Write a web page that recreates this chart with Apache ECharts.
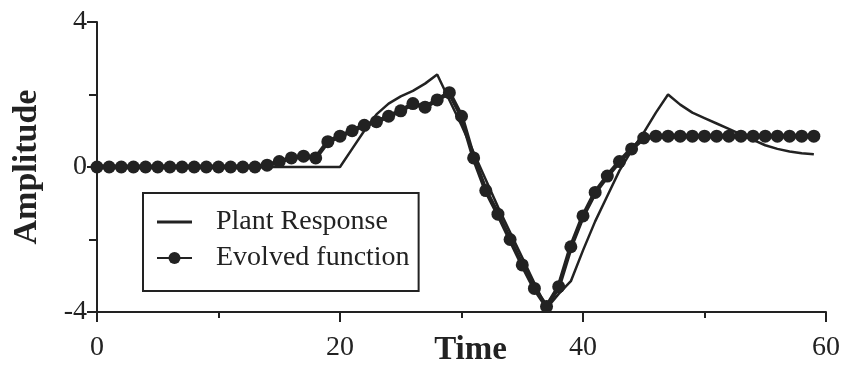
<!DOCTYPE html>
<html>
<head>
<meta charset="utf-8">
<script src="https://cdn.jsdelivr.net/npm/echarts@6/dist/echarts.min.js"></script>
<style>html,body{margin:0;padding:0;background:#fff;}#c{width:847px;height:367px;}</style>
</head>
<body>
<div id="c"></div>
<script>
var times = [0,1,2,3,4,5,6,7,8,9,10,11,12,13,14,15,16,17,18,19,20,21,22,23,24,25,26,27,28,29,30,31,32,33,34,35,36,37,38,39,40,41,42,43,44,45,46,47,48,49,50,51,52,53,54,55,56,57,58,59];
var plantResponse = [0,0,0,0,0,0,0,0,0,0,0,0,0,0,0,0,0,0,0,0,0,
  0.5,1.0,1.45,1.75,1.95,2.1,2.3,2.55,1.85,1.15,0.4,-0.35,-1.1,-1.8,-2.5,-3.2,-3.9,
  -3.5,-3.15,-2.3,-1.5,-0.8,-0.1,0.45,0.95,1.5,2.0,1.72,1.5,1.35,1.2,1.05,0.9,0.75,0.6,0.5,0.43,0.38,0.35];
var evolvedFunction = [0,0,0,0,0,0,0,0,0,0,0,0,0,0,
  0.05,0.15,0.25,0.3,0.25,0.7,0.85,1.0,1.15,1.25,1.4,1.55,1.75,1.65,1.85,2.05,
  1.4,0.25,-0.65,-1.3,-2.0,-2.7,-3.35,-3.85,-3.3,-2.2,-1.35,-0.7,-0.25,0.15,0.5,0.8,
  0.85,0.85,0.85,0.85,0.85,0.85,0.85,0.85,0.85,0.85,0.85,0.85,0.85,0.85];
var xTicks = [0,20,40,60];
var yTicks = [-4,0,4];

function pairs(vals){ return times.map(function(t,i){ return [t, vals[i]]; }); }
var ink = '#222';
var font = 'Liberation Serif, Times New Roman, serif';
var lineIcon = 'path://M0,0L0.01,0L0,0.01Z M0,5.5H35V8.5H0Z M35,14L34.99,14L35,13.99Z';
var chart = echarts.init(document.getElementById('c'), null, {renderer:'canvas'});
chart.setOption({
  backgroundColor:'#fff',
  animation:false,
  textStyle:{fontFamily:font,color:ink},
  grid:{left:97,right:21,top:22,bottom:55,containLabel:false,outerBoundsMode:'none'},
  legend:{
    orient:'vertical', left:143, top:193,
    borderColor:ink, borderWidth:2, borderRadius:0,
    padding:[14,9,18,13], itemGap:6,
    itemWidth:35, itemHeight:15,
    textStyle:{fontFamily:font,fontSize:28,color:ink,lineHeight:30,padding:[0,0,0,19]},
    data:[{name:'Plant Response',icon:lineIcon},{name:'Evolved function'}]
  },
  xAxis:{
    type:'value', min:0, max:60, interval:20,
    name:'Time', nameLocation:'middle', nameGap:22, nameMoveOverlap:false,
    nameTextStyle:{fontFamily:font,fontSize:33,fontWeight:'bold',color:ink,padding:[0,0,0,18]},
    axisLine:{show:true,onZero:false,lineStyle:{color:ink,width:2}},
    axisTick:{show:true,inside:false,length:10,lineStyle:{color:ink,width:2}},
    minorTick:{show:true,splitNumber:2,length:6,lineStyle:{color:ink,width:2}},
    splitLine:{show:false},
    axisLabel:{margin:22,fontFamily:font,fontSize:28,color:ink,
      formatter:function(v){ return xTicks.indexOf(v)>=0 ? String(v) : ''; }}
  },
  yAxis:{
    type:'value', min:-4, max:4, interval:4,
    name:'Amplitude', nameLocation:'middle', nameGap:53, nameRotate:90, nameMoveOverlap:false,
    nameTextStyle:{fontFamily:font,fontSize:34,fontWeight:'bold',color:ink},
    axisLine:{show:true,onZero:false,lineStyle:{color:ink,width:2}},
    axisTick:{show:true,inside:false,length:10,lineStyle:{color:ink,width:2}},
    minorTick:{show:true,splitNumber:2,length:8,lineStyle:{color:ink,width:2}},
    splitLine:{show:false},
    axisLabel:{margin:10,fontFamily:font,fontSize:28,color:ink,
      formatter:function(v){ return yTicks.indexOf(v)>=0 ? String(v) : ''; }}
  },
  series:[
    {name:'Plant Response', type:'line', data:pairs(plantResponse), symbol:'none',
     lineStyle:{color:ink,width:2.5}, itemStyle:{color:ink}, z:2},
    {name:'Evolved function', type:'line', data:pairs(evolvedFunction), symbol:'circle',
     symbolSize:13, showAllSymbol:true,
     lineStyle:{color:ink,width:4.5}, itemStyle:{color:ink}, z:3}
  ]
});
</script>
</body>
</html>
